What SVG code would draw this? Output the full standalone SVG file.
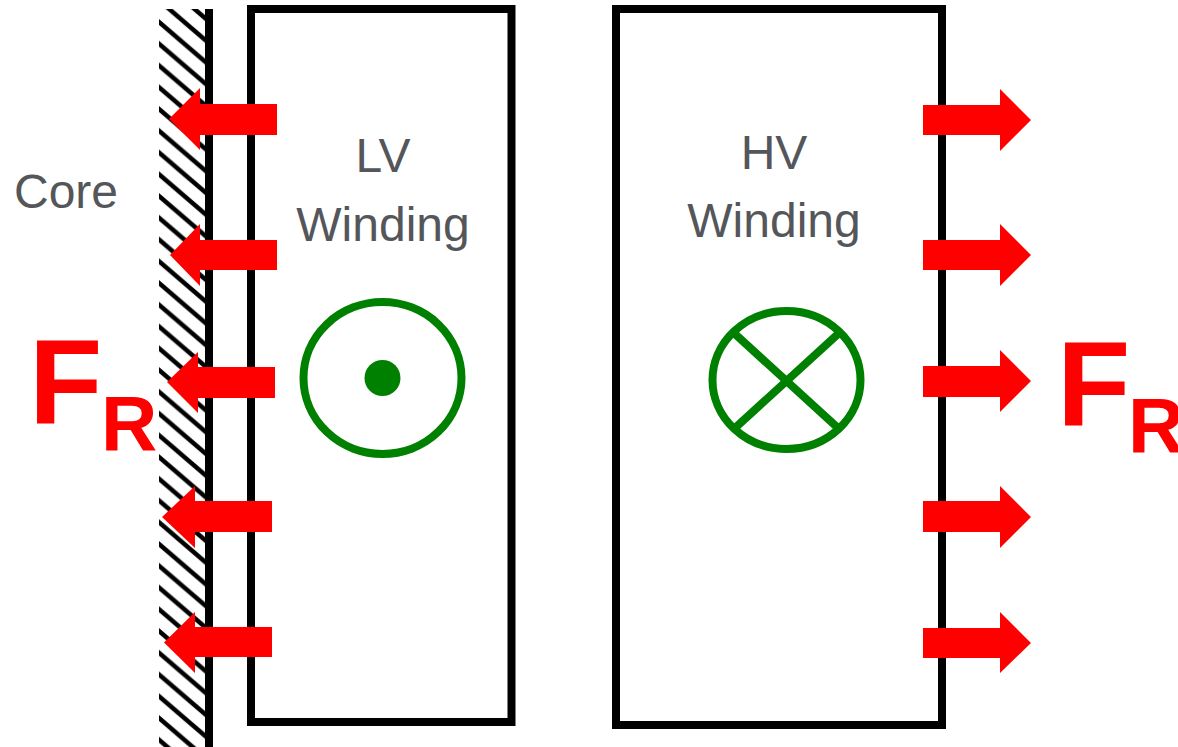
<svg xmlns="http://www.w3.org/2000/svg" width="1178" height="747" viewBox="0 0 1178 747">
<style>
.box{fill:none;stroke:#000;stroke-width:8}
.sym{fill:none;stroke:#008000;stroke-width:8}
.arrow{fill:#f00}
.lbl{font-family:"Liberation Sans",Arial,sans-serif;font-size:48px;fill:#54565a}
.fr{font-family:"Liberation Sans",Arial,sans-serif;font-weight:bold;fill:#f00}
</style>
<defs>
<pattern id="hatch" patternUnits="userSpaceOnUse" x="159" y="22" width="25.3" height="21.75">
<path d="M-25.3 0L25.3 43.5M0 -21.75L50.6 21.75M-25.3 -21.75L25.3 21.75" stroke="#000" stroke-width="4.5" fill="none"/>
</pattern>
</defs>
<g id="core">
<rect x="159" y="9" width="47" height="738" fill="url(#hatch)"/>
<rect x="205" y="9" width="8" height="738" fill="#000"/>
<text class="lbl" x="14" y="208">Core</text>
</g>
<g id="lv-winding">
<rect class="box" x="251" y="9" width="260.500" height="713"/>
<text class="lbl" x="383" y="172" text-anchor="middle">LV</text>
<text class="lbl" x="383" y="241" text-anchor="middle">Winding</text>
</g>
<g id="hv-winding">
<rect class="box" x="616" y="9" width="326" height="716"/>
<text class="lbl" x="774" y="169" text-anchor="middle">HV</text>
<text class="lbl" x="774" y="237" text-anchor="middle">Winding</text>
</g>
<g id="lv-current">
<ellipse class="sym" cx="382.500" cy="378" rx="79" ry="76"/>
<circle cx="382.500" cy="378" r="18" fill="#008000"/>
</g>
<g id="hv-current">
<ellipse class="sym" cx="786.500" cy="380" rx="74" ry="69"/>
<path class="sym" stroke-width="7" d="M735 334L838 428M838 334L735 428"/>
</g>
<g id="connectors">
<path class="arrow" d="M277 104H200V88L169 119L200 150V135H277Z"/>
<path class="arrow" d="M277 240H200V224L170 255L200 286V270H277Z"/>
<path class="arrow" d="M275 367H198V352L167 382L198 413V398H275Z"/>
<path class="arrow" d="M272 501H195V486L162 517L195 548V532H272Z"/>
<path class="arrow" d="M272 627H195V612L164 642.500L195 673V657H272Z"/>
<path class="arrow" d="M923 105H1000V89L1031 120L1000 151V135H923Z"/>
<path class="arrow" d="M923 240H1000V224L1031 255L1000 286V270H923Z"/>
<path class="arrow" d="M923 366H1000V350L1031 381L1000 412V397H923Z"/>
<path class="arrow" d="M923 501H1000V486L1031 517L1000 548V532H923Z"/>
<path class="arrow" d="M923 628H1000V612L1031 643L1000 673V658H923Z"/>
</g>
<g id="force-left">
<text class="fr" x="29" y="423" font-size="120">F</text>
<text class="fr" x="101" y="450" font-size="78">R</text>
</g>
<g id="force-right">
<text class="fr" x="1057" y="425" font-size="120">F</text>
<text class="fr" x="1128" y="451.500" font-size="78">R</text>
</g>
</svg>
